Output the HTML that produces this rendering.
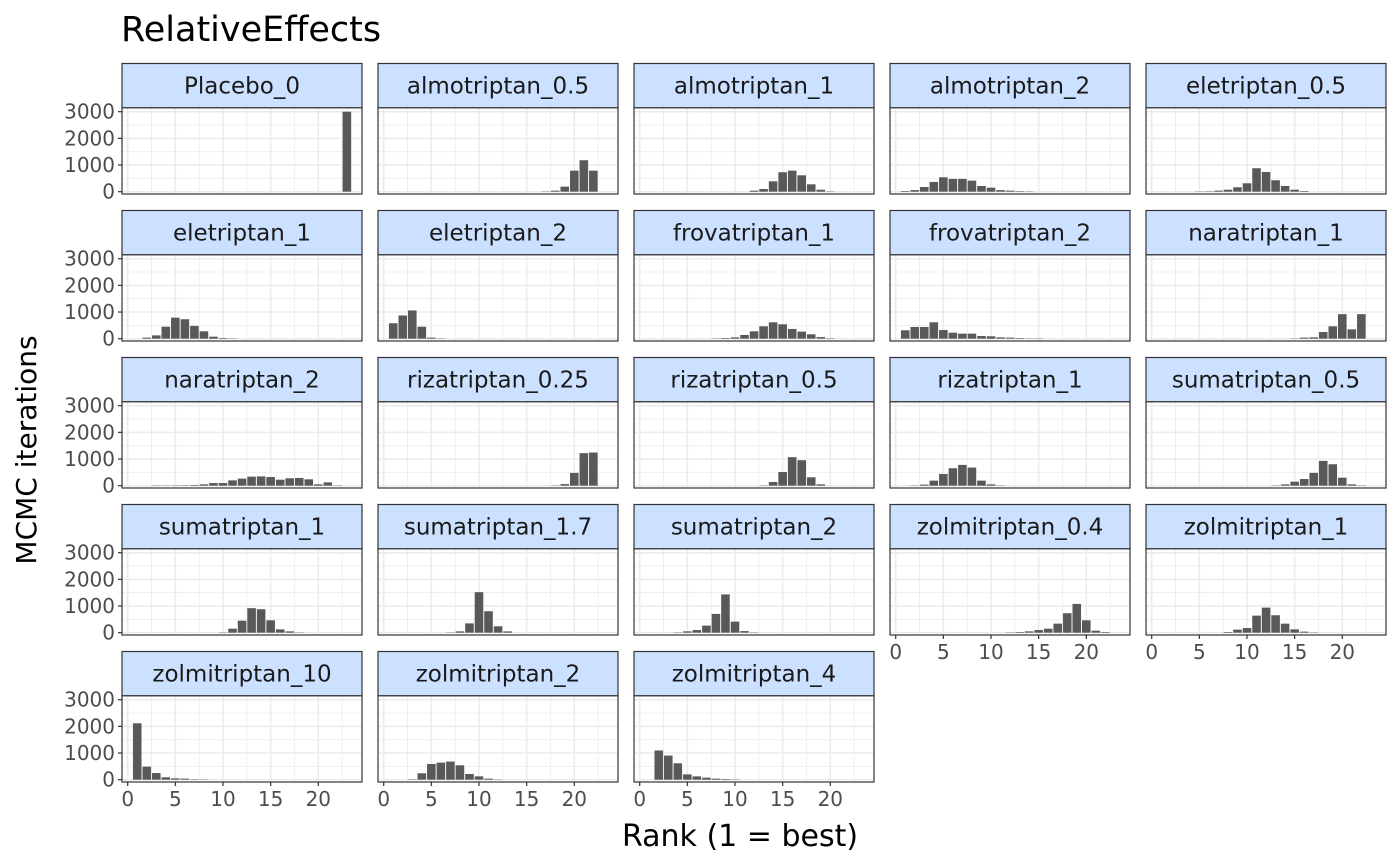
<!DOCTYPE html>
<html><head><meta charset="utf-8"><style>
html,body{margin:0;padding:0;background:#fff;}
svg{display:block;font-family:"DejaVu Sans","Liberation Sans",sans-serif;}
</style></head><body>
<svg id="chart" width="1400" height="866" viewBox="0 0 1400 866" xmlns="http://www.w3.org/2000/svg">
<rect width="1400" height="866" fill="#fff"/>
<text x="121" y="41" font-size="35" fill="#000">RelativeEffects</text>
<text transform="translate(36,450) rotate(-90)" text-anchor="middle" font-size="28" fill="#000">MCMC iterations</text>
<text x="740" y="846" text-anchor="middle" font-size="30" fill="#000">Rank (1 = best)</text>
<g id="facets"></g>
</svg>
<script>
const facetNames = ["Placebo_0","almotriptan_0.5","almotriptan_1","almotriptan_2","eletriptan_0.5","eletriptan_1","eletriptan_2","frovatriptan_1","frovatriptan_2","naratriptan_1","naratriptan_2","rizatriptan_0.25","rizatriptan_0.5","rizatriptan_1","sumatriptan_0.5","sumatriptan_1","sumatriptan_1.7","sumatriptan_2","zolmitriptan_0.4","zolmitriptan_1","zolmitriptan_10","zolmitriptan_2","zolmitriptan_4"];
const ranks = [1,2,3,4,5,6,7,8,9,10,11,12,13,14,15,16,17,18,19,20,21,22,23];
const xTicks = [0,5,10,15,20];
const yTicks = [0,1000,2000,3000];
const countsPlacebo0 = [0,0,0,0,0,0,0,0,0,0,0,0,0,0,0,0,0,0,0,0,0,0,3000];
const countsAlmo05 = [0,0,0,0,0,0,0,0,0,0,0,0,0,0,0,0,10,40,190,790,1180,790,0];
const countsAlmo1 = [0,0,0,0,0,0,0,0,0,0,0,40,100,390,730,790,615,277,75,10,0,0,0];
const countsAlmo2 = [25,60,175,365,540,480,480,415,215,150,60,40,20,10,0,0,0,0,0,0,0,0,0];
const countsEle05 = [0,0,0,0,10,15,40,75,165,315,880,740,430,215,75,25,0,0,0,0,0,0,0];
const countsEle1 = [0,40,125,450,790,730,480,277,75,25,5,0,0,0,0,0,0,0,0,0,0,0,0];
const countsEle2 = [580,870,1060,450,40,10,0,0,0,0,0,0,0,0,0,0,0,0,0,0,0,0,0];
const countsFrov1 = [0,0,0,0,0,0,0,10,25,50,140,277,465,615,540,365,265,165,60,15,0,0,0];
const countsFrov2 = [315,440,440,615,325,225,190,190,100,90,50,40,25,10,5,0,0,0,0,0,0,0,0];
const countsNara1 = [0,0,0,0,0,0,0,0,0,0,0,0,0,0,10,40,50,250,465,920,350,920,0];
const countsNara2 = [0,0,5,5,10,15,25,50,100,100,200,265,340,350,325,225,277,290,240,50,125,10,0];
const countsRiza025 = [0,0,0,0,0,0,0,0,0,0,0,0,0,0,0,0,0,10,60,480,1220,1245,0];
const countsRiza05 = [0,0,0,0,0,0,0,0,0,0,0,0,10,140,515,1070,955,315,50,0,0,0,0];
const countsRiza1 = [0,10,40,190,440,655,780,680,190,50,10,0,0,0,0,0,0,0,0,0,0,0,0];
const countsSuma05 = [0,0,0,0,0,0,0,0,0,0,0,0,10,50,150,250,480,930,805,300,50,10,0];
const countsSuma1 = [0,0,0,0,0,0,0,0,0,10,150,450,920,880,465,125,50,10,0,0,0,0,0];
const countsSuma17 = [0,0,0,0,0,0,10,50,350,1520,805,240,50,0,0,0,0,0,0,0,0,0,0];
const countsSuma2 = [0,0,0,10,50,100,265,705,1435,415,60,10,0,0,0,0,0,0,0,0,0,0,0];
const countsZolm04 = [0,0,0,0,0,0,0,0,0,0,0,10,25,50,100,150,340,730,1080,465,75,25,0];
const countsZolm1 = [0,0,0,0,0,0,0,25,115,175,640,940,655,340,125,40,10,0,0,0,0,0,0];
const countsZolm10 = [2115,490,250,90,50,40,15,10,0,0,0,0,0,0,0,0,0,0,0,0,0,0,0];
const countsZolm2 = [0,0,15,240,590,640,680,540,215,125,40,5,0,0,0,0,0,0,0,0,0,0,0];
const countsZolm4 = [0,1095,905,615,200,125,75,40,25,10,0,0,0,0,0,0,0,0,0,0,0,0,0];
const facetCounts = [countsPlacebo0,countsAlmo05,countsAlmo1,countsAlmo2,countsEle05,countsEle1,countsEle2,countsFrov1,countsFrov2,countsNara1,countsNara2,countsRiza025,countsRiza05,countsRiza1,countsSuma05,countsSuma1,countsSuma17,countsSuma2,countsZolm04,countsZolm1,countsZolm10,countsZolm2,countsZolm4];

const NS = "http://www.w3.org/2000/svg";
const root = document.getElementById("facets");
const COLW = 240, COLSTEP = 256, ROWSTEP = 147;
const X0 = 122, STRIPTOP = 63.5, STRIPBOT = 107.7, PANBOT = 194;
const XPX = 9.53, XOFF = 5.7, YPX = 0.02667, YBASE = 191.7;
function mk(tag, attrs, parent){const e=document.createElementNS(NS,tag);for(const k in attrs)e.setAttribute(k,attrs[k]);parent.appendChild(e);return e;}
function xScale(left, v){return left + XOFF + v*XPX;}
function yScale(row, v){return YBASE + row*ROWSTEP - v*YPX;}

facetNames.forEach((name, i) => {
  const col = i % 5, row = Math.floor(i / 5);
  const left = X0 + col*COLSTEP, right = left + COLW;
  const sTop = STRIPTOP + row*ROWSTEP, pTop = STRIPBOT + row*ROWSTEP, pBot = PANBOT + row*ROWSTEP;
  const g = mk("g", {}, root);
  
  
  mk("rect", {x:left, y:pTop, width:COLW, height:pBot-pTop, fill:"#fff"}, g);
  for (let v = 2.5; v < 25; v += 5) { const x = xScale(left, v); if (x < right) mk("line", {x1:x, x2:x, y1:pTop, y2:pBot, stroke:"#EBEBEB", "stroke-width":0.8}, g); }
  for (let v = 500; v < 3200; v += 1000) { const y = yScale(row, v); mk("line", {x1:left, x2:right, y1:y, y2:y, stroke:"#EBEBEB", "stroke-width":0.8}, g); }
  xTicks.forEach(v => { const x = xScale(left, v); mk("line", {x1:x, x2:x, y1:pTop, y2:pBot, stroke:"#EBEBEB", "stroke-width":1.5}, g); });
  yTicks.forEach(v => { const y = yScale(row, v); mk("line", {x1:left, x2:right, y1:y, y2:y, stroke:"#EBEBEB", "stroke-width":1.5}, g); });
  const counts = facetCounts[i];
  ranks.forEach((r, k) => {
    const v = counts[k]; if (!v) return;
    const xc = xScale(left, r), w = 0.9*XPX;
    const y0 = yScale(row, 0), y1 = yScale(row, v);
    const b = mk("rect", {x:xc-w/2, y:y1, width:w, height:Math.max(y0-y1,0.3), fill:"#595959"}, g);
    
    
  });
  mk("rect", {x:left, y:pTop, width:COLW, height:pBot-pTop, fill:"none", stroke:"#333", "stroke-width":1.2}, g);
  const s = mk("rect", {x:left, y:sTop, width:COLW, height:pTop-sTop, fill:"#CCE0FF", stroke:"#333", "stroke-width":1.2}, g);
  
  
  const t = mk("text", {x:left+COLW/2, y:(sTop+pTop)/2+8, "text-anchor":"middle", "font-size":23, fill:"#1A1A1A"}, g);
  t.textContent = name;
  
  
  if (col === 0) {
    yTicks.forEach(v => {
      const y = yScale(row, v);
      mk("line", {x1:left-4, x2:left, y1:y, y2:y, stroke:"#333", "stroke-width":1.2}, g);
      const tl = mk("text", {x:left-7, y:y+7, "text-anchor":"end", "font-size":20, fill:"#4D4D4D"}, g);
      tl.textContent = v;
      
      
    });
  }
  if (i + 5 >= facetNames.length) {
    xTicks.forEach(v => {
      const x = xScale(left, v);
      mk("line", {x1:x, x2:x, y1:pBot, y2:pBot+4, stroke:"#333", "stroke-width":1.2}, g);
      const tl = mk("text", {x:x, y:pBot+24, "text-anchor":"middle", "font-size":20, fill:"#4D4D4D"}, g);
      tl.textContent = v;
      
      
    });
  }
});
</script>
</body></html>
